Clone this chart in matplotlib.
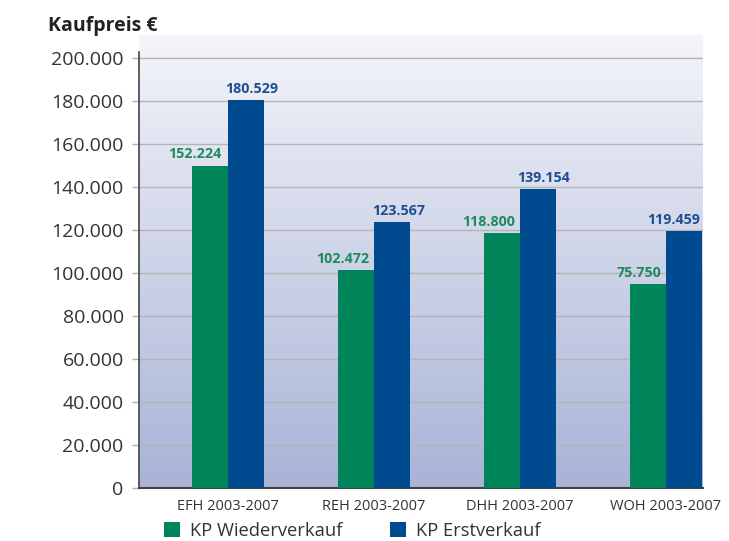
import numpy as np
import matplotlib
matplotlib.use("Agg")
import matplotlib.pyplot as plt
from matplotlib.colors import LinearSegmentedColormap

categories = ["EFH 2003-2007", "REH 2003-2007", "DHH 2003-2007", "WOH 2003-2007"]
# printed values
wieder_labels = [152224, 102472, 118800, 75750]
erst_labels = [180529, 123567, 139154, 119459]
# bar heights as drawn in the picture
wieder_bars = [150000, 101500, 118500, 95000]
erst_bars = [180529, 123567, 139154, 119459]
yticks = [0, 20000, 40000, 60000, 80000, 100000, 120000, 140000, 160000, 180000, 200000]

def de(v):
    return f"{v:,}".replace(",", ".")

plt.rcParams['font.family'] = ['Open Sans', 'DejaVu Sans']

green = "#00845a"
blue = "#004a90"
txt = "#333333"

fig = plt.figure(figsize=(7.29, 5.41), dpi=100)
ax = fig.add_axes([139/729, 53/541, 564/729, 453/541])

x = np.arange(len(categories))
w = 0.247
ymax = 210700

# gradient background
cmap = LinearSegmentedColormap.from_list("bg", ["#f4f5fa", "#a8b3d6"])
grad = np.linspace(0, 1, 256).reshape(-1, 1)
ax.imshow(grad, cmap=cmap, aspect='auto', extent=[-0.61, 3.253, 0, ymax], zorder=0, origin='upper')

ax.bar(x - w/2, wieder_bars, w, color=green, zorder=3, label="KP Wiederverkauf")
ax.bar(x + w/2, erst_bars, w, color=blue, zorder=3, label="KP Erstverkauf")

# label offsets in pixels from bar centre
g_off = [-15, -13, -13, -9]
b_off = [6, 7, 5, -10]
for i in range(len(categories)):
    ax.annotate(de(wieder_labels[i]), (x[i] - w/2, wieder_bars[i]), xytext=(g_off[i]*0.72, 3),
                textcoords='offset points', ha='center', va='bottom', color="#1e8a5c",
                fontsize=10.3, fontweight='bold')
    ax.annotate(de(erst_labels[i]), (x[i] + w/2, erst_bars[i]), xytext=(b_off[i]*0.72, 3),
                textcoords='offset points', ha='center', va='bottom', color="#1f4e92",
                fontsize=10.3, fontweight='bold')

ax.set_xlim(-0.61, 3.253)
ax.set_ylim(0, ymax)
ax.set_yticks(yticks)
ax.set_yticklabels([de(v) for v in yticks], fontsize=14, color=txt)
ax.set_xticks(x)
ax.set_xticklabels(categories, fontsize=10.5, color=txt)
ax.yaxis.grid(True, color="#b4b4b8", linewidth=1, zorder=1)
ax.set_axisbelow(True)
ax.tick_params(axis='y', length=5, width=1, color="#b4b4b8", pad=6)
ax.tick_params(axis='x', length=0, pad=8)

for s in ['top', 'right']:
    ax.spines[s].set_visible(False)
ax.spines['left'].set_bounds(0, 203000)
ax.spines['left'].set_color("#444444")
ax.spines['bottom'].set_color("#444444")
ax.spines['left'].set_linewidth(1.2)
ax.spines['bottom'].set_linewidth(1.5)

fig.text(48/729, 1 - 31/541, "Kaufpreis €", fontsize=14, fontweight='bold', color="#222222")

ax.legend(loc='lower left', bbox_to_anchor=(157/729, -0.012), bbox_transform=fig.transFigure,
          ncol=2, frameon=False, fontsize=13.2, handlelength=0.87, handleheight=0.87,
          handletextpad=0.55, columnspacing=2.6, labelcolor=txt, borderaxespad=0)

fig.savefig("out.png", dpi=100)
